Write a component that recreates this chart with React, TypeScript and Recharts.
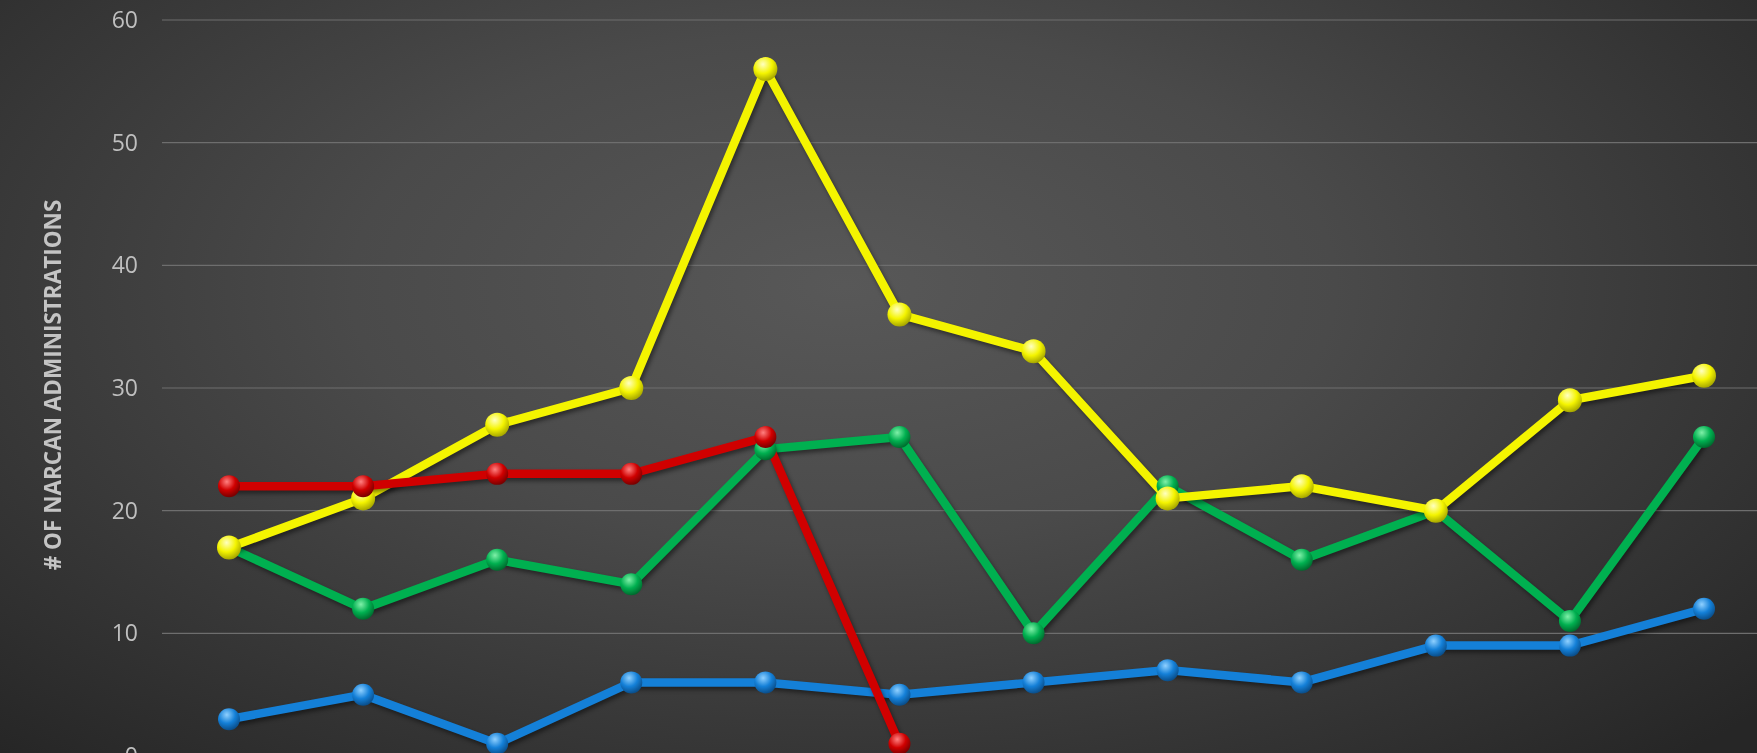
import { LineChart, Line, XAxis, YAxis, CartesianGrid } from "recharts";

// months (x labels sit below the visible crop)
const MONTHS = ["JAN", "FEB", "MAR", "APR", "MAY", "JUN", "JUL", "AUG", "SEP", "OCT", "NOV", "DEC"];

const BLUE_VALUES = [3, 5, 1, 6, 6, 5, 6, 7, 6, 9, 9, 12];
const GREEN_VALUES = [17, 12, 16, 14, 25, 26, 10, 22, 16, 20, 11, 26];
const YELLOW_VALUES = [17, 21, 27, 30, 56, 36, 33, 21, 22, 20, 29, 31];
const RED_VALUES = [22, 22, 23, 23, 26, 1, null, null, null, null, null, null];

const Y_TICKS = [0, 10, 20, 30, 40, 50, 60];

const data = MONTHS.map((m, i) => ({
  month: m,
  blue: BLUE_VALUES[i],
  green: GREEN_VALUES[i],
  yellow: YELLOW_VALUES[i],
  red: RED_VALUES[i],
}));

const SERIES = [
  { key: "blue", color: "#1480d8", light: "#8fd0ff", dark: "#0a4f8c", r: 11 },
  { key: "green", color: "#00b050", light: "#7ff0a8", dark: "#006b2e", r: 11 },
  { key: "yellow", color: "#f4f400", light: "#ffffc0", dark: "#a8a800", r: 12 },
  { key: "red", color: "#d00000", light: "#ff8080", dark: "#7a0000", r: 11 },
];

function ShadedDot(props: any) {
  const { cx, cy, gid, light, base, dark, r } = props;
  if (cx == null || cy == null) return <g />;
  return (
    <g>
      <defs>
        <radialGradient id={gid} cx="40%" cy="30%" r="70%">
          <stop offset="0%" stopColor={light} />
          <stop offset="55%" stopColor={base} />
          <stop offset="100%" stopColor={dark} />
        </radialGradient>
      </defs>
      <circle cx={cx} cy={cy} r={r} fill={`url(#${gid})`} />
    </g>
  );
}

export default function App() {
  return (
    <div
      style={{
        position: "fixed",
        left: 0,
        top: 0,
        width: 1757,
        height: 753,
        overflow: "hidden",
        background:
          "radial-gradient(ellipse 70% 85% at 48% 38%, #585858 0%, #4a4a4a 40%, #353535 75%, #262626 100%)",
        fontFamily: "'Open Sans', sans-serif",
      }}
    >
      <style>{`.narcan .recharts-line-curve { filter: drop-shadow(2px 3px 2px rgba(0,0,0,0.45)); }`}</style>
      <LineChart
        className="narcan"
        width={1800}
        height={800}
        data={data}
        margin={{ top: 20, right: 29, left: 0, bottom: 0 }}
      >
        <CartesianGrid vertical={false} stroke="#6e6e6e" strokeWidth={1.2} />
        <XAxis
          dataKey="month"
          padding={{ left: 67, right: 67 }}
          axisLine={false}
          tickLine={false}
          tickSize={0}
          tickMargin={8}
          height={44}
          tick={{ fill: "#bfbfbf", fontSize: 20 }}
        />
        <YAxis
          width={162}
          domain={[0, 60]}
          ticks={Y_TICKS}
          axisLine={false}
          tickLine={false}
          tickSize={0}
          tickMargin={24}
          tick={{ fill: "#bfbfbf", fontSize: 23 }}
          label={{
            value: "# OF NARCAN ADMINISTRATIONS",
            angle: -90,
            position: "insideLeft",
            offset: 0,
            dx: 53,
            dy: -3,
            style: { fill: "#c4c4c4", fontSize: 22.5, fontWeight: 700, textAnchor: "middle" },
          }}
        />
        {SERIES.map((s) => (
          <Line
            key={s.key}
            type="linear"
            dataKey={s.key}
            stroke={s.color}
            strokeWidth={8.5}
            isAnimationActive={false}
            connectNulls={false}
            activeDot={false}
            dot={(p: any) => (
              <ShadedDot
                key={`${s.key}-${p.index}`}
                cx={p.cx}
                cy={p.cy}
                gid={`grad-${s.key}`}
                light={s.light}
                base={s.color}
                dark={s.dark}
                r={s.r}
              />
            )}
          />
        ))}
      </LineChart>
    </div>
  );
}
